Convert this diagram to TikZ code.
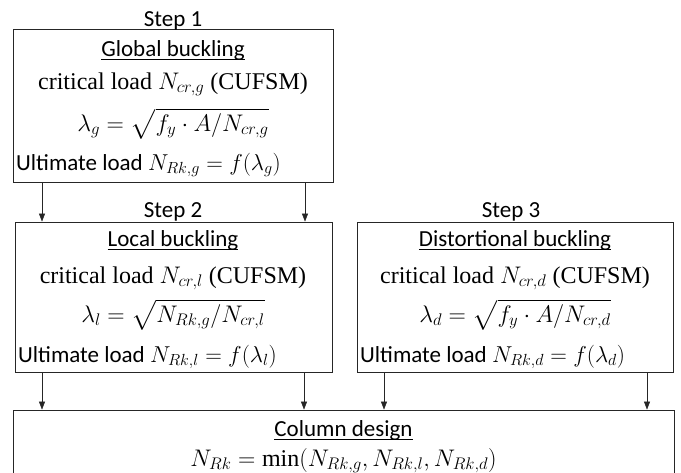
\RequirePackage{fix-cm}
\documentclass[tikz,border=0pt]{standalone}
\usepackage{amsmath}
\usepackage{fontspec}
\setmainfont{Liberation Serif}
\setsansfont{Carlito}
\usetikzlibrary{arrows.meta,positioning}

\newcommand{\headline}[1]{$\underline{\smash{\hbox{#1}}}$}

\begin{document}
\begin{tikzpicture}[x=1pt,y=-1pt,
    stagebox/.style={draw=black!85, line width=0.8pt, inner sep=0pt},
    sanstxt/.style={inner sep=0pt, anchor=base, font=\sffamily\fontsize{23}{27}\selectfont},
    sertxt/.style={inner sep=0pt, anchor=base, font=\fontsize{24}{28}\selectfont},
    conn/.style={draw=black!85, line width=0.6pt, -{Triangle[length=8pt,width=6pt]}}]
    \useasboundingbox (0,0) rectangle (681,472);

    % Step 1
    \node[stagebox, minimum width=320pt, minimum height=153pt] (glob) at (173,105.5) {};
    \node[sanstxt] (stepA) at (173,26) {Step 1};
    \node[sanstxt] (globT) at (173,56) {\headline{Global buckling}};
    \node[sertxt] (globN) at (173,89) {critical load $N_{cr,g}$ (CUFSM)};
    \node[sertxt] (globL) at (173,131) {$\lambda_g = \sqrt{f_y\cdot A/N_{cr,g}}$};
    \node[sanstxt, anchor=base west] (globU) at (16,170) {Ultimate load $N_{Rk,g} = f(\lambda_g)$};

    % Step 2
    \node[stagebox, minimum width=317pt, minimum height=150pt] (loc) at (173.5,297) {};
    \node[sanstxt] (stepB) at (173,217) {Step 2};
    \node[sanstxt] (locT) at (173,246) {\headline{Local buckling}};
    \node[sertxt] (locN) at (173,283) {critical load $N_{cr,l}$ (CUFSM)};
    \node[sertxt] (locL) at (173,322) {$\lambda_l = \sqrt{N_{Rk,g}/N_{cr,l}}$};
    \node[sanstxt, anchor=base west] (locU) at (18,362) {Ultimate load $N_{Rk,l} = f(\lambda_l)$};

    % Step 3
    \node[stagebox, minimum width=316pt, minimum height=150pt] (dist) at (515,297) {};
    \node[sanstxt] (stepC) at (511,217) {Step 3};
    \node[sanstxt] (distT) at (515,246) {\headline{Distortional buckling}};
    \node[sertxt] (distN) at (515,283) {critical load $N_{cr,d}$ (CUFSM)};
    \node[sertxt] (distL) at (515,322) {$\lambda_d = \sqrt{f_y\cdot A/N_{cr,d}}$};
    \node[sanstxt, anchor=base west] (distU) at (360,362) {Ultimate load $N_{Rk,d} = f(\lambda_d)$};

    % Column design
    \node[stagebox, minimum width=661pt, minimum height=70pt] (col) at (343.5,445) {};
    \node[sanstxt] (colT) at (343.5,436) {\headline{Column design}};
    \node[sertxt] (colF) at (343.5,466) {$N_{Rk} = \min(N_{Rk,g}, N_{Rk,l}, N_{Rk,d})$};

    % arrows
    \draw[conn] (glob.south -| 42,0) -- (loc.north -| 42,0);
    \draw[conn] (glob.south -| 305,0) -- (loc.north -| 305,0);
    \draw[conn] (loc.south -| 42,0) -- (col.north -| 42,0);
    \draw[conn] (loc.south -| 304,0) -- (col.north -| 304,0);
    \draw[conn] (dist.south -| 384,0) -- (col.north -| 384,0);
    \draw[conn] (dist.south -| 647,0) -- (col.north -| 647,0);
\end{tikzpicture}
\end{document}
